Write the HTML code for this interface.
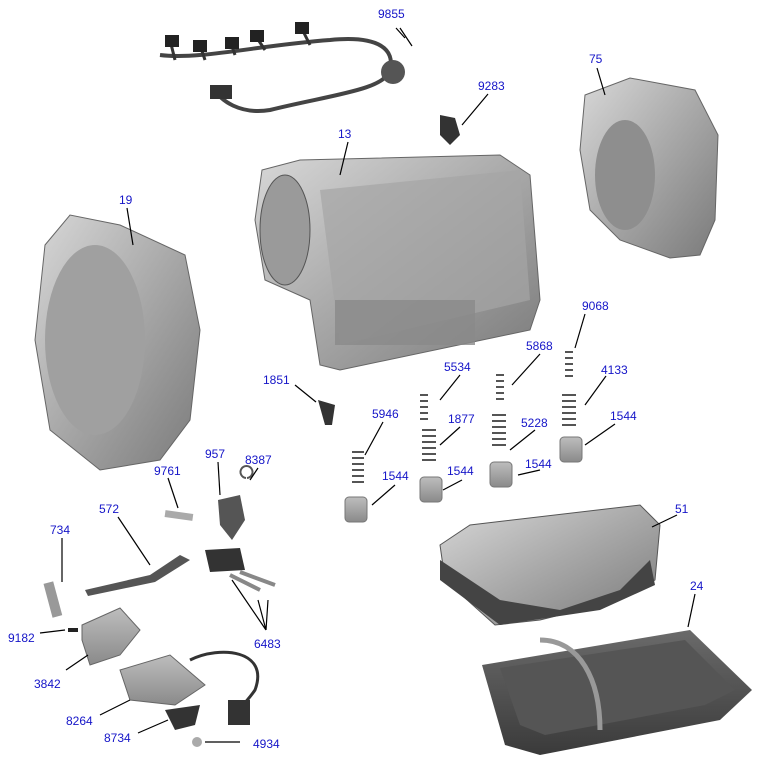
<!DOCTYPE html>
<html><head><meta charset="utf-8"><style>
html,body{margin:0;padding:0;background:#fff;width:762px;height:764px;overflow:hidden}
svg{display:block}
text{font-family:"Liberation Sans",Arial,sans-serif;font-size:12px;fill:#1515c8}
.l{stroke:#000;stroke-width:1.2;fill:none}
</style></head><body>
<svg width="762" height="764" viewBox="0 0 762 764">
<defs>
<linearGradient id="g1" x1="0" y1="0" x2="1" y2="1"><stop offset="0" stop-color="#d8d8d8"/><stop offset=".5" stop-color="#a8a8a8"/><stop offset="1" stop-color="#7a7a7a"/></linearGradient>
<linearGradient id="g2" x1="0" y1="0" x2="0" y2="1"><stop offset="0" stop-color="#bdbdbd"/><stop offset="1" stop-color="#8a8a8a"/></linearGradient>
<linearGradient id="g3" x1="0" y1="0" x2="0" y2="1"><stop offset="0" stop-color="#6a6a6a"/><stop offset="1" stop-color="#3a3a3a"/></linearGradient>
</defs>
<!-- harness -->
<path d="M160,55 C200,60 260,45 330,40 C380,35 395,50 390,70 C385,90 330,95 270,110 C240,115 220,100 215,90" stroke="#444" stroke-width="4" fill="none"/>
<path d="M170,40 L175,60 M200,45 L205,60 M230,40 L235,55 M255,35 L265,50 M300,25 L310,45" stroke="#333" stroke-width="3"/>
<rect x="165" y="35" width="14" height="12" fill="#222"/><rect x="193" y="40" width="14" height="12" fill="#222"/><rect x="225" y="37" width="14" height="12" fill="#222"/><rect x="250" y="30" width="14" height="12" fill="#222"/><rect x="295" y="22" width="14" height="12" fill="#222"/>
<circle cx="393" cy="72" r="12" fill="#555"/><rect x="210" y="85" width="22" height="14" fill="#333"/>
<!-- 9283 sensor -->
<path d="M440,115 L455,118 L460,135 L450,145 L440,135 Z" fill="#333"/>
<!-- 75 -->
<path d="M585,95 L630,78 L695,90 L718,135 L715,220 L700,255 L670,258 L620,240 L590,210 L580,150 Z" fill="url(#g1)" stroke="#666"/>
<ellipse cx="625" cy="175" rx="30" ry="55" fill="#8e8e8e"/>
<!-- 13 main case -->
<path d="M262,170 L300,160 L500,155 L530,175 L540,300 L530,330 L340,370 L320,365 L310,300 L265,280 L255,220 Z" fill="url(#g1)" stroke="#666"/>
<ellipse cx="285" cy="230" rx="25" ry="55" fill="#9a9a9a" stroke="#555"/>
<path d="M320,190 L520,170 L530,300 L340,345 Z" fill="#a5a5a5" opacity=".7"/>
<rect x="335" y="300" width="140" height="45" fill="#8a8a8a" opacity=".8"/>
<!-- 19 bell housing -->
<path d="M45,245 L70,215 L120,225 L185,255 L200,330 L190,420 L160,460 L100,470 L50,430 L35,340 Z" fill="url(#g1)" stroke="#666"/>
<ellipse cx="95" cy="340" rx="50" ry="95" fill="#a0a0a0"/>
<!-- 1851 -->
<path d="M318,400 L335,405 L332,425 L325,425 Z" fill="#333"/>
<!-- springs -->
<g fill="none" stroke="#555" stroke-width="2">
<path d="M352,452 h12 M352,458 h12 M352,464 h12 M352,470 h12 M352,476 h12 M352,482 h12"/>
<path d="M422,430 h14 M422,436 h14 M422,442 h14 M422,448 h14 M422,454 h14 M422,460 h14"/>
<path d="M420,395 h8 M420,401 h8 M420,407 h8 M420,413 h8 M420,419 h8"/>
<path d="M492,415 h14 M492,421 h14 M492,427 h14 M492,433 h14 M492,439 h14 M492,445 h14"/>
<path d="M496,375 h8 M496,381 h8 M496,387 h8 M496,393 h8 M496,399 h8"/>
<path d="M562,395 h14 M562,401 h14 M562,407 h14 M562,413 h14 M562,419 h14 M562,425 h14"/>
<path d="M565,352 h8 M565,358 h8 M565,364 h8 M565,370 h8 M565,376 h8"/>
</g>
<g fill="url(#g2)" stroke="#777">
<rect x="345" y="497" width="22" height="25" rx="4"/><rect x="420" y="477" width="22" height="25" rx="4"/><rect x="490" y="462" width="22" height="25" rx="4"/><rect x="560" y="437" width="22" height="25" rx="4"/>
</g>
<!-- 51 valve body -->
<path d="M440,545 L470,525 L640,505 L660,525 L655,580 L620,600 L540,620 L495,625 L445,580 Z" fill="url(#g1)" stroke="#555"/>
<path d="M440,560 L500,600 L560,610 L620,590 L650,560 L655,585 L600,610 L500,625 L440,580 Z" fill="#444"/>
<!-- 24 pan -->
<path d="M482,665 L690,630 L752,690 L720,720 L540,755 L505,745 Z" fill="url(#g3)"/>
<path d="M500,668 L685,640 L735,690 L705,705 L545,735 L520,725 Z" fill="#555"/>
<path d="M540,640 C580,640 600,680 600,730" stroke="#999" stroke-width="5" fill="none"/>
<!-- small left parts -->
<rect x="165" y="512" width="28" height="7" fill="#aaa" transform="rotate(8 179 515)"/>
<path d="M218,500 L240,495 L245,520 L232,540 L220,525 Z" fill="#555"/>
<path d="M246,478 a6,6 0 1 1 1,0" stroke="#555" stroke-width="2" fill="none"/>
<path d="M85,590 L150,575 L180,555 L190,560 L155,582 L88,596 Z" fill="#555"/>
<path d="M205,550 L240,548 L245,570 L210,572 Z" fill="#333"/>
<path d="M230,575 L260,590 M240,572 L275,585" stroke="#888" stroke-width="4"/>
<rect x="48" y="582" width="10" height="35" fill="#999" transform="rotate(-15 53 600)"/>
<path d="M82,625 L120,608 L140,630 L120,655 L90,665 L82,640 Z" fill="url(#g2)" stroke="#666"/>
<rect x="68" y="628" width="10" height="4" fill="#222"/>
<path d="M120,670 L170,655 L205,685 L175,705 L130,700 Z" fill="url(#g2)" stroke="#666"/>
<path d="M190,660 C220,645 270,650 255,690 C245,705 235,710 240,715" stroke="#333" stroke-width="3" fill="none"/>
<rect x="228" y="700" width="22" height="25" fill="#333"/>
<path d="M165,710 L200,705 L195,725 L175,730 Z" fill="#333"/>
<circle cx="197" cy="742" r="5" fill="#aaa"/>
<!-- leader lines -->
<g class="l">
<path d="M396,28 L405,38 M400,28 L412,46"/>
<path d="M488,94 L462,125"/>
<path d="M597,68 L605,95"/>
<path d="M348,142 L340,175"/>
<path d="M127,208 L133,245"/>
<path d="M585,314 L575,348"/>
<path d="M540,354 L512,385"/>
<path d="M460,375 L440,400"/>
<path d="M606,376 L585,405"/>
<path d="M295,385 L316,402"/>
<path d="M383,422 L365,455"/>
<path d="M460,427 L440,445"/>
<path d="M535,430 L510,450"/>
<path d="M615,424 L585,445"/>
<path d="M540,470 L518,475"/>
<path d="M462,480 L443,490"/>
<path d="M395,485 L372,505"/>
<path d="M168,478 L178,508"/>
<path d="M218,462 L220,495"/>
<path d="M258,468 L250,480"/>
<path d="M118,517 L150,565"/>
<path d="M677,515 L652,527"/>
<path d="M62,538 L62,582"/>
<path d="M695,594 L688,627"/>
<path d="M266,630 L232,580 M266,630 L258,600 M266,630 L268,600"/>
<path d="M40,633 L65,630"/>
<path d="M66,670 L88,655"/>
<path d="M100,715 L130,700"/>
<path d="M138,733 L168,720"/>
<path d="M240,742 L205,742"/>
</g>
<text x="378" y="18">9855</text>
<text x="478" y="90">9283</text>
<text x="589" y="63">75</text>
<text x="338" y="138">13</text>
<text x="119" y="204">19</text>
<text x="582" y="310">9068</text>
<text x="526" y="350">5868</text>
<text x="444" y="371">5534</text>
<text x="601" y="374">4133</text>
<text x="263" y="384">1851</text>
<text x="372" y="418">5946</text>
<text x="448" y="423">1877</text>
<text x="521" y="427">5228</text>
<text x="610" y="420">1544</text>
<text x="525" y="468">1544</text>
<text x="447" y="475">1544</text>
<text x="382" y="480">1544</text>
<text x="154" y="475">9761</text>
<text x="205" y="458">957</text>
<text x="245" y="464">8387</text>
<text x="99" y="513">572</text>
<text x="675" y="513">51</text>
<text x="50" y="534">734</text>
<text x="690" y="590">24</text>
<text x="254" y="648">6483</text>
<text x="8" y="642">9182</text>
<text x="34" y="688">3842</text>
<text x="66" y="725">8264</text>
<text x="104" y="742">8734</text>
<text x="253" y="748">4934</text>
</svg>
</body></html>
